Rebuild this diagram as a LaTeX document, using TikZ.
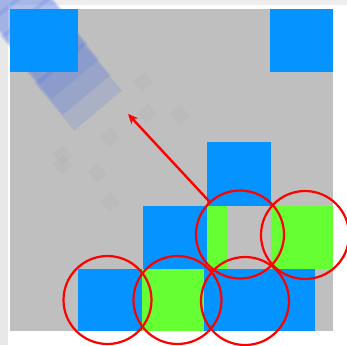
\documentclass[tikz,border=0pt]{standalone}
\usepackage{tikz}
\usepackage{xcolor}
\usetikzlibrary{arrows.meta}

\definecolor{tileblue}{RGB}{5,148,255}
\definecolor{tilegreen}{RGB}{102,255,51}
\definecolor{ghostblue}{RGB}{65,105,225}

\begin{document}
\begin{tikzpicture}[x=1pt,y=-1pt,
  bluecell/.style={fill=tileblue},
  greencell/.style={fill=tilegreen},
  ghost/.style={fill=ghostblue,opacity=0.16},
  speck/.style={fill=black,opacity=0.02},
  ring/.style={circle,draw=red,line width=2.2pt,minimum size=88pt,inner sep=0pt},
  pointer/.style={draw=red,line width=2.4pt,-{Stealth[length=10pt,width=9pt]}}]
\useasboundingbox (0,0) rectangle (347,345);
\clip (0,0) rectangle (347,345);

% frame
\fill[white] (0,0) rectangle (347,345);
\fill[black!7] (0,0) rectangle (347,5);
\fill[black!9] (0,0) rectangle (8,345);
\fill[black!25] (10,9) rectangle (333,331);

% faint traces
\foreach \px/\py in {143/82,147/113,110/137,63/155,97/173,110/202,180/115,63/165}
  \fill[speck,rotate around={40:(\px,\py)}] (\px-7,\py-7) rectangle (\px+7,\py+7);

% sliding block
\foreach \t in {-1.5,-1.2,...,1.0}
  \fill[ghost,rotate around={40:({44+38*\t},{40+52*\t})}]
    ({44+38*\t-31},{40+52*\t-31}) rectangle ({44+38*\t+31},{40+52*\t+31});

% tiles
\fill[bluecell] (10,9) rectangle (78,72);
\fill[bluecell] (270,9) rectangle (333,72);
\fill[bluecell] (207,142) rectangle (271,206);
\fill[bluecell] (143,206) rectangle (207,269);
\fill[greencell] (207,206) rectangle (227,269);
\fill[greencell] (271,206) rectangle (333,269);
\fill[bluecell] (78,269) rectangle (142,331);
\fill[greencell] (142,269) rectangle (204,331);
\fill[bluecell] (204,269) rectangle (315,331);

% marks
\node[ring] (r1) at (107.5,300) {};
\node[ring] (r2) at (177.5,300) {};
\node[ring] (r3) at (245,301) {};
\node[ring] (r4) at (240,234.5) {};
\node[ring] (r5) at (305,235) {};

\coordinate (tip) at (128,114);
\draw[pointer] (r4) -- (tip);
\end{tikzpicture}
\end{document}
